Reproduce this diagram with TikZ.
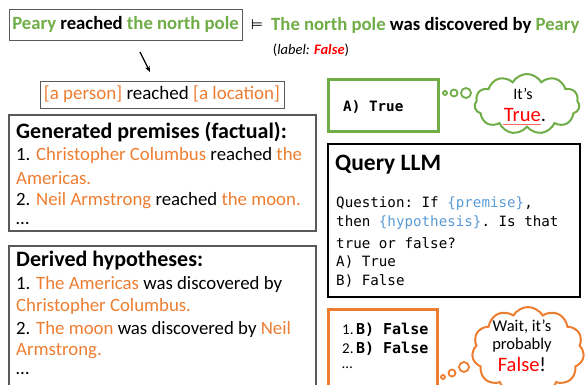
\documentclass[tikz,border=0pt]{standalone}
\usepackage{fontspec}
\setmainfont{Carlito}
\setmonofont{DejaVu Sans Mono}
\newfontfamily\symfont{DejaVu Sans}
\usetikzlibrary{shapes.symbols,arrows.meta}
\definecolor{pgreen}{HTML}{70AD47}
\definecolor{porange}{HTML}{ED7D31}
\definecolor{pblue}{HTML}{5B9BD5}
\definecolor{pgray}{HTML}{595959}
\definecolor{pred}{HTML}{FF0000}
\newcommand{\G}[1]{\textcolor{pgreen}{#1}}
\newcommand{\Or}[1]{\textcolor{porange}{#1}}
\newcommand{\Bl}[1]{\textcolor{pblue}{#1}}
\tikzset{
  thinbox/.style={draw=pgray, line width=0.9pt, inner sep=0pt},
  bigbox/.style={draw=pgray, line width=1.1pt, inner sep=0pt},
  txt/.style={inner sep=0pt, anchor=west, font=\fontsize{18.8}{22}\selectfont},
  ttl/.style={inner sep=0pt, anchor=west, font=\fontsize{22}{25}\selectfont\bfseries},
  mono/.style={inner sep=0pt, anchor=west, font=\fontsize{14.2}{16}\selectfont\ttfamily},
  bubble/.style={line width=1.8pt},
  thought/.style={cloud, cloud puffs=11, cloud puff arc=120, aspect=1.7, inner sep=0pt, line width=2pt},
}
\begin{document}
\begin{tikzpicture}[x=1pt,y=-1pt]
\useasboundingbox (0,0) rectangle (587,385);
% top line
\node[thinbox, minimum width=233, minimum height=31, font=\fontsize{18.7}{21}\selectfont\bfseries] (prem) at (125.5,24.5) {\G{Peary} reached \G{the north pole}};
\node[inner sep=0pt, font=\fontsize{14}{16}\selectfont\symfont] (ent) at (257,25) {⊨};
\node[txt, font=\fontsize{18.7}{21}\selectfont\bfseries] (hyp) at (271,25) {\G{The north pole} was discovered by \G{Peary}};
\node[inner sep=0pt, font=\fontsize{14.5}{16}\selectfont] (lab) at (311,50) {(\textit{label: \textcolor{pred}{\textbf{False}}})};
\coordinate (a1) at (140,52);
\coordinate (a2) at (150,72);
\draw[line width=1.2pt, -{Stealth[length=6pt,width=5pt]}] (a1) -- (a2);
% template
\node[thinbox, minimum width=244, minimum height=27, font=\fontsize{19}{21}\selectfont] (tmpl) at (162,94.5) {\Or{[a person]} reached \Or{[a location]}};
% premises box
\node[bigbox, minimum width=307, minimum height=116] (pbox) at (162.5,173) {};
\node[ttl] (pt) at (16,132) {Generated premises (factual):};
\node[txt] (p1) at (16,155) {1. \Or{Christopher Columbus} reached \Or{the}};
\node[txt] (p1b) at (16,178) {\Or{Americas.}};
\node[txt] (p2) at (16,201) {2. \Or{Neil Armstrong} reached \Or{the moon.}};
\node[txt] (p3) at (16,224) {\dots};
% hypotheses box
\node[bigbox, minimum width=307, minimum height=150] (hbox) at (162.5,321) {};
\node[ttl] (ht) at (16,261) {Derived hypotheses:};
\node[txt] (h1) at (16,284) {1. \Or{The Americas} was discovered by};
\node[txt] (h1b) at (16,306) {\Or{Christopher Columbus.}};
\node[txt] (h2) at (16,329) {2. \Or{The moon} was discovered by \Or{Neil}};
\node[txt] (h2b) at (16,351) {\Or{Armstrong.}};
\node[txt] (h3) at (16,374) {\dots};
% green answer
\node[draw=pgreen, line width=3pt, minimum width=110, minimum height=52, inner sep=0pt] (gbox) at (383,106) {};
\node[mono, font=\fontsize{14.3}{16}\selectfont\ttfamily\bfseries] (gans) at (343,107) {A)~True};
\node[draw=pgreen, bubble, circle, minimum size=4, inner sep=0pt] (gb1) at (445,93) {};
\node[draw=pgreen, bubble, circle, minimum size=7, inner sep=0pt] (gb2) at (454,93) {};
\node[draw=pgreen, bubble, circle, minimum size=10, inner sep=0pt] (gb3) at (466,93) {};
\node[draw=pgreen, thought, minimum width=105, minimum height=60] (gcloud) at (527,104) {};
\node[inner sep=0pt, font=\fontsize{16}{18}\selectfont] (gc1) at (523,94) {It’s};
\node[inner sep=0pt, font=\fontsize{20.5}{22}\selectfont] (gc2) at (525,115) {\textcolor{pred}{True}.};
\draw[pred!60, line width=1pt] ([xshift=-1pt,yshift=-2.5pt]gc2.south west) -- ([xshift=-5pt,yshift=-2.5pt]gc2.south east);
% query box
\node[draw=black, line width=2pt, minimum width=252, minimum height=153, inner sep=0pt] (qbox) at (454,220.5) {};
\node[inner sep=0pt, anchor=west, font=\fontsize{23.5}{26}\selectfont\bfseries] (qt) at (335,165) {Query LLM};
\node[mono] (q1) at (336,204) {Question: If \Bl{\{premise\}},};
\node[mono] (q2) at (336,223) {then \Bl{\{hypothesis\}}. Is that};
\node[mono] (q3) at (336,243) {true or false?};
\node[mono] (q4) at (336,262) {A) True};
\node[mono] (q5) at (336,281) {B) False};
% orange answer
\node[draw=porange, line width=3pt, minimum width=109, minimum height=90, inner sep=0pt] (obox) at (382.5,354) {};
\node[txt, font=\fontsize{15}{18}\selectfont] (o1) at (342,330) {1.\,\texttt{\bfseries B) False}};
\node[txt, font=\fontsize{15}{18}\selectfont] (o2) at (342,349) {2.\,\texttt{\bfseries B) False}};
\node[txt, font=\fontsize{15}{18}\selectfont] (o3) at (342,368) {\dots};
\node[draw=porange, bubble, circle, minimum size=4, inner sep=0pt] (ob1) at (443,377) {};
\node[draw=porange, bubble, circle, minimum size=7, inner sep=0pt] (ob2) at (452,373) {};
\node[draw=porange, bubble, circle, minimum size=10, inner sep=0pt] (ob3) at (464,367) {};
\node[draw=porange, thought, minimum width=112, minimum height=88] (ocloud) at (528,351) {};
\node[inner sep=0pt, font=\fontsize{16.5}{18}\selectfont] (oc1) at (522,327) {Wait, it's};
\node[inner sep=0pt, font=\fontsize{16.5}{18}\selectfont] (oc2) at (522,345) {probably};
\node[inner sep=0pt, font=\fontsize{20.5}{22}\selectfont] (oc3) at (522,364) {\textcolor{pred}{False}!};
\end{tikzpicture}
\end{document}
